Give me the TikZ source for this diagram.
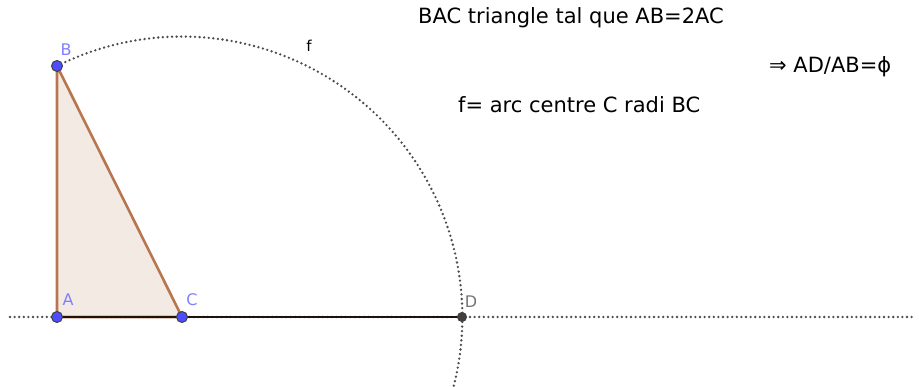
\documentclass[tikz,border=0pt]{standalone}
\usepackage{fontspec}
\setmainfont{DejaVu Sans}
\definecolor{ptblue}{HTML}{4D4DFF}
\definecolor{lblblue}{HTML}{7F7FFF}
\definecolor{edgebrown}{HTML}{B8764F}
\definecolor{fillbrown}{HTML}{F3EAE4}
\tikzset{
  pt/.style={circle,draw=black!75,fill=ptblue,line width=1pt,inner sep=0pt,minimum size=11pt},
  lbl/.style={text=lblblue,font=\fontsize{16}{19}\selectfont,inner sep=1pt},
  dotline/.style={line width=2.6pt,dash pattern=on 0pt off 4.6pt,line cap=round,black!70},
  note/.style={font=\fontsize{21}{25}\selectfont,anchor=base west,inner sep=0pt}
}
\begin{document}
\begin{tikzpicture}[x=1pt,y=1pt]
  \useasboundingbox (0,0) rectangle (919,387);
  \clip (0,0) rectangle (919,387);
  % Points
  \coordinate (A) at (57,70);
  \coordinate (C) at (182,70);
  \coordinate (B) at (57,321);
  \coordinate (D) at (462,70);
  \coordinate (Lft) at (10,70);
  \coordinate (Rgt) at (916,70);
  % Line through A and D
  \draw[dotline] (Lft) -- (Rgt);
  % Triangle
  \filldraw[fill=fillbrown,draw=edgebrown,line width=2.6pt,line join=round] (B) -- (A) -- (C) -- cycle;
  % Segment AD
  \draw[line width=2.4pt,black!85!brown] (A) -- (D);
  % Arc f, centre C, radius BC
  \draw[dotline] (B) arc[start angle=116.47,end angle=-16,radius=280.4];
  \node[font=\fontsize{15}{18}\selectfont] (f) at (309,341) {f};
  % Point marks
  \node[pt] (pA) at (A) {};
  \node[pt] (pB) at (B) {};
  \node[pt] (pC) at (C) {};
  \node[pt,fill=black!75,minimum size=9pt] (pD) at (D) {};
  \node[lbl] (lA) at (68,87) {A};
  \node[lbl] (lB) at (66,337) {B};
  \node[lbl] (lC) at (192,87) {C};
  \node[lbl,text=black!55] (lD) at (471,85) {D};
  % Texts
  \node[note] (t1) at (418,363) {BAC triangle tal que AB=2AC};
  \node[note] (t2) at (769,314) {⇒ AD/AB=ϕ};
  \node[note] (t3) at (458,274) {f= arc centre C radi BC};
\end{tikzpicture}
\end{document}
